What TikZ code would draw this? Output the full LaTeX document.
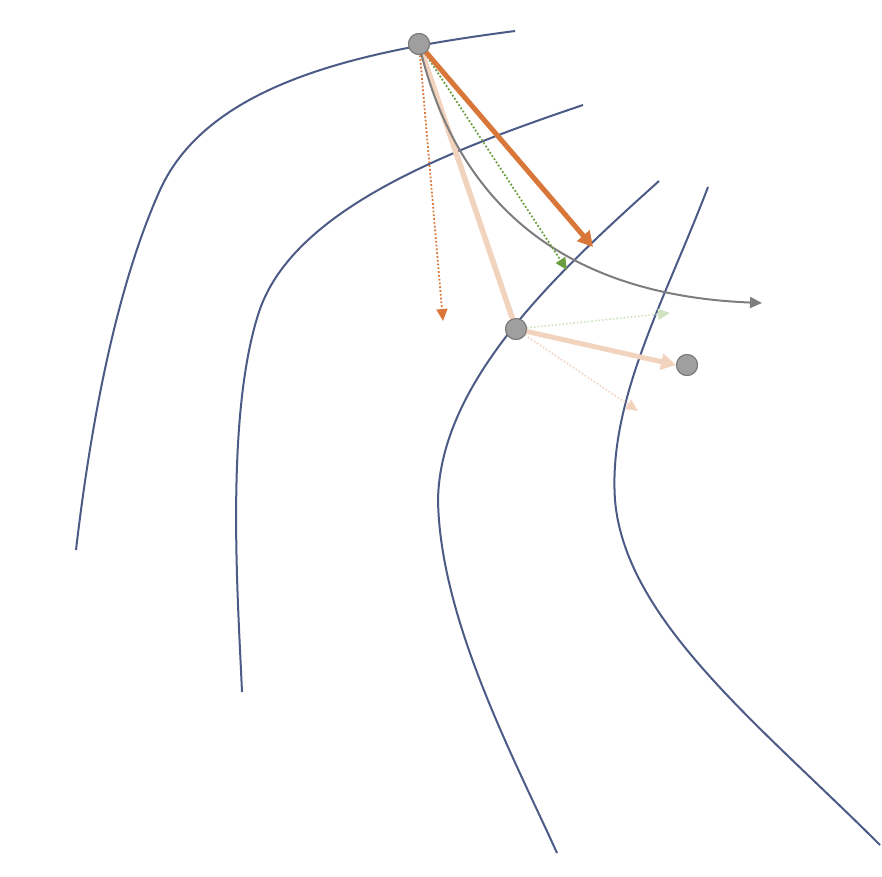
\documentclass[tikz,border=0pt]{standalone}
\usetikzlibrary{arrows.meta}
\definecolor{curveblue}{HTML}{4C5A86}
\definecolor{orng}{HTML}{D9773A}
\definecolor{peach}{HTML}{F2D3BE}
\definecolor{grn}{HTML}{6B9E3F}
\definecolor{lgrn}{HTML}{CFE3C2}
\definecolor{gry}{HTML}{7D7D7D}
\begin{document}
\begin{tikzpicture}[x=1pt,y=-1pt,
  level/.style={curveblue,line width=2pt},
  pt/.style={circle,fill=gray!75,draw=gray!95!black,line width=1pt,minimum size=21pt,inner sep=0pt},
  tip/.style={-{Triangle[length=12pt,width=11pt]}}]
\useasboundingbox (0,0) rectangle (882,876);
% level curves
\draw[level] (515,31) .. controls (370,50) and (210,80) .. (160,190) .. controls (115,290) and (90,430) .. (76,550);
\draw[level] (583,105) .. controls (450,150) and (290,210) .. (258,315) .. controls (225,420) and (238,600) .. (242,692);
\draw[level] (659,181) .. controls (560,270) and (440,380) .. (438,500) .. controls (440,620) and (515,760) .. (557,853);
\draw[level] (708,187) .. controls (665,300) and (608,400) .. (615,500) .. controls (625,620) and (760,725) .. (880,845);
% points
\node[pt] (A) at (419,44) {};
\node[pt] (B) at (516,329) {};
\node[pt] (C) at (687,365) {};
\coordinate (dA) at (443,321);
\coordinate (oA) at (593,247);
\coordinate (gA) at (567,270);
\coordinate (cA) at (762,303);
\coordinate (gB) at (670,313);
\coordinate (dB) at (638,411);
% arrows from A
\draw[peach,line width=5.5pt] (A.center) -- (B.center);
\draw[orng,line width=1.8pt,dotted,tip] (A.center) -- (dA);
\draw[gry,line width=2pt,tip] (A.center) .. controls (455,200) and (560,295) .. (cA);
\draw[grn,line width=1.8pt,dotted,tip] (A.center) -- (gA);
\draw[orng,line width=5pt,-{Triangle[length=15pt,width=16pt]}] (A.center) -- (oA);
% arrows from B
\draw[lgrn,line width=1.6pt,dotted,tip] (B.center) -- (gB);
\draw[peach,line width=1.6pt,dotted,tip] (B.center) -- (dB);
\draw[peach,line width=5pt,-{Triangle[length=15pt,width=16pt]}] (B.center) -- (C.west);
\node[pt] at (B) {};
\node[pt] at (A) {};
\node[pt] at (C) {};
\end{tikzpicture}
\end{document}
